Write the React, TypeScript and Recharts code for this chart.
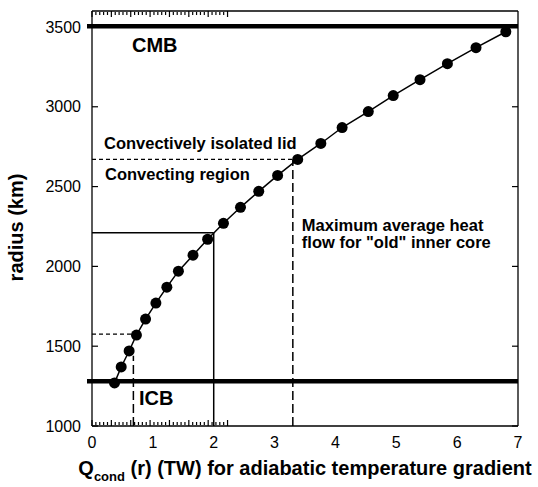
import React from 'react';
import { LineChart, Line, XAxis, YAxis, ReferenceLine } from 'recharts';

// conductive heat flow (TW) vs radius (km)
const Q_COND = [0.37, 0.48, 0.61, 0.73, 0.88, 1.05, 1.23, 1.42, 1.66, 1.9, 2.16, 2.44, 2.74, 3.05, 3.38, 3.76, 4.11, 4.54, 4.95, 5.39, 5.84, 6.31, 6.8];
const RADIUS = [1270, 1370, 1470, 1570, 1670, 1770, 1870, 1970, 2070, 2170, 2270, 2370, 2470, 2570, 2670, 2770, 2870, 2970, 3070, 3170, 3270, 3370, 3470];

const X_MAJOR = [0, 1, 2, 3, 4, 5, 6, 7];
const X_MINOR = [
  0.2, 0.4, 0.6, 0.8, 1.2, 1.4, 1.6, 1.8, 2.2, 2.4, 2.6, 2.8, 3.2, 3.4, 3.6, 3.8,
  4.2, 4.4, 4.6, 4.8, 5.2, 5.4, 5.6, 5.8, 6.2, 6.4, 6.6, 6.8,
];
const Y_TICKS = [1000, 1500, 2000, 2500, 3000, 3500];

const CMB_RADIUS = 3505;
const ICB_RADIUS = 1280;
const LID_RADIUS = 2670;
const LID_Q = 3.38;
const MAX_FLOW_Q = 3.3;
const OLD_CORE_Q = 2;
const OLD_CORE_RADIUS = 2210;
const YOUNG_Q = 0.68;
const YOUNG_Q_END = 0.72;
const YOUNG_RADIUS = 1575;
const YOUNG_TOP = 1440;

const data = Q_COND.map((q, i) => ({ q, r: RADIUS[i] }));

const FONT = '"Liberation Sans", Arial, Helvetica, sans-serif';
const X_DOMAIN = [0, 7];
const Y_DOMAIN = [1000, 3600];

const BottomLabel = ({ x, y, payload }) => (
  <text x={x} y={y + 22} textAnchor="middle" fontSize={16} fontFamily={FONT} fill="#000">
    {payload.value}
  </text>
);

const LeftLabel = ({ x, y, payload }) => (
  <text x={x - 11} y={y + 5.7} textAnchor="end" fontSize={16} fontFamily={FONT} fill="#000">
    {payload.value}
  </text>
);

const NoLabel = () => null;

const tickLineStyle = { stroke: '#000', strokeWidth: 1.2 };
const axisLineStyle = { stroke: '#000', strokeWidth: 1.3 };

const thickLine = (p) => (
  <line x1={p.x1 - 5} y1={p.y1} x2={p.x2} y2={p.y2} stroke="#000" strokeWidth={4.5} />
);

const boldText = { fontFamily: FONT, fontWeight: 'bold', fill: '#000' };

export default function App() {
  return (
    <div style={{ position: 'absolute', left: 0, top: 0, background: '#fff' }}>
      <LineChart width={538} height={487} data={data} margin={{ top: 11, right: 20, bottom: 0, left: 0 }}>
        <XAxis
          dataKey="q"
          type="number"
          domain={X_DOMAIN}
          ticks={X_MAJOR}
          interval={0}
          height={61}
          stroke="#000"
          tickLine={false}
          tickSize={0}
          tickMargin={0}
          tick={BottomLabel}
          axisLine={axisLineStyle}
          allowDataOverflow
          label={(p) => {
            const vb = p.viewBox;
            return (
              <text x={vb.x + vb.width / 2} y={vb.y + 48.5} textAnchor="middle" fontSize={20} {...boldText}>
                Q<tspan fontSize={13} dy={6}>cond</tspan>
                <tspan dy={-6}> (r) (TW) for adiabatic temperature gradient</tspan>
              </text>
            );
          }}
        />
        {/* inward tick marks on all four sides */}
        <XAxis xAxisId="bMajor" orientation="bottom" mirror type="number" domain={X_DOMAIN} ticks={X_MAJOR} interval={0}
          height={1} stroke="#000" tickSize={6} tick={NoLabel} tickLine={tickLineStyle} axisLine={false} allowDataOverflow />
        <XAxis xAxisId="bMinor" orientation="bottom" mirror type="number" domain={X_DOMAIN} ticks={X_MINOR} interval={0}
          height={1} stroke="#000" tickSize={3} tick={NoLabel} tickLine={tickLineStyle} axisLine={false} allowDataOverflow />
        <XAxis xAxisId="tMajor" orientation="top" mirror type="number" domain={X_DOMAIN} ticks={X_MAJOR} interval={0}
          height={1} stroke="#000" tickSize={6} tick={NoLabel} tickLine={tickLineStyle} axisLine={axisLineStyle} allowDataOverflow />
        <XAxis xAxisId="tMinor" orientation="top" mirror type="number" domain={X_DOMAIN} ticks={X_MINOR} interval={0}
          height={1} stroke="#000" tickSize={3} tick={NoLabel} tickLine={tickLineStyle} axisLine={false} allowDataOverflow />

        <YAxis
          type="number"
          domain={Y_DOMAIN}
          ticks={Y_TICKS}
          interval={0}
          width={92}
          stroke="#000"
          tickLine={false}
          tickSize={0}
          tickMargin={0}
          tick={LeftLabel}
          axisLine={axisLineStyle}
          allowDataOverflow
          label={(p) => {
            const vb = p.viewBox;
            const cx = vb.x + 23;
            const cy = vb.y + vb.height / 2 + 9;
            return (
              <text x={cx} y={cy} textAnchor="middle" fontSize={20} transform={`rotate(-90 ${cx} ${cy})`} {...boldText}>
                radius (km)
              </text>
            );
          }}
        />
        <YAxis yAxisId="lTicks" orientation="left" mirror type="number" domain={Y_DOMAIN} ticks={Y_TICKS} interval={0}
          width={1} stroke="#000" tickSize={6} tick={NoLabel} tickLine={tickLineStyle} axisLine={false} allowDataOverflow />
        <YAxis yAxisId="rTicks" orientation="right" mirror type="number" domain={Y_DOMAIN} ticks={Y_TICKS} interval={0}
          width={1} stroke="#000" tickSize={6} tick={NoLabel} tickLine={tickLineStyle} axisLine={axisLineStyle} allowDataOverflow />

        <ReferenceLine
          y={CMB_RADIUS}
          shape={thickLine}
          label={(p) => (
            <text x={p.viewBox.x + 40} y={p.viewBox.y + 26} fontSize={20} {...boldText}>
              CMB
            </text>
          )}
        />
        <ReferenceLine
          y={ICB_RADIUS}
          shape={thickLine}
          label={(p) => (
            <text x={p.viewBox.x + 47} y={p.viewBox.y + 24} fontSize={20} {...boldText}>
              ICB
            </text>
          )}
        />

        <ReferenceLine
          segment={[{ x: 0, y: LID_RADIUS }, { x: LID_Q, y: LID_RADIUS }]}
          stroke="#000"
          strokeWidth={1.3}
          strokeDasharray="4 3"
          label={(p) => (
            <g>
              <text x={p.viewBox.x + 12} y={p.viewBox.y - 10} fontSize={16.5} {...boldText}>
                Convectively isolated lid
              </text>
              <text x={p.viewBox.x + 13} y={p.viewBox.y + 21} fontSize={16.5} {...boldText}>
                Convecting region
              </text>
            </g>
          )}
        />
        <ReferenceLine
          segment={[{ x: MAX_FLOW_Q, y: 1000 }, { x: MAX_FLOW_Q, y: LID_RADIUS }]}
          stroke="#000"
          strokeWidth={1.5}
          strokeDasharray="9 4"
          label={(p) => (
            <text fontSize={16.5} {...boldText}>
              <tspan x={p.viewBox.x + 9} y={p.viewBox.y + 72}>Maximum average heat</tspan>
              <tspan x={p.viewBox.x + 9} y={p.viewBox.y + 88.5}>flow for "old" inner core</tspan>
            </text>
          )}
        />

        <ReferenceLine
          segment={[{ x: OLD_CORE_Q, y: 1000 }, { x: OLD_CORE_Q, y: OLD_CORE_RADIUS }]}
          stroke="#000"
          strokeWidth={1.5}
        />
        <ReferenceLine
          segment={[{ x: 0, y: OLD_CORE_RADIUS }, { x: OLD_CORE_Q, y: OLD_CORE_RADIUS }]}
          stroke="#000"
          strokeWidth={1.5}
        />

        <ReferenceLine
          segment={[{ x: 0, y: YOUNG_RADIUS }, { x: YOUNG_Q_END, y: YOUNG_RADIUS }]}
          stroke="#000"
          strokeWidth={1.3}
          strokeDasharray="4 3"
        />
        <ReferenceLine
          segment={[{ x: YOUNG_Q, y: 1000 }, { x: YOUNG_Q, y: YOUNG_TOP }]}
          stroke="#000"
          strokeWidth={1.5}
          strokeDasharray="9 4"
        />

        <Line
          type="linear"
          dataKey="r"
          stroke="#000"
          strokeWidth={1.5}
          dot={{ r: 5.5, fill: '#000', stroke: '#000', strokeWidth: 0 }}
          isAnimationActive={false}
        />
      </LineChart>
    </div>
  );
}
